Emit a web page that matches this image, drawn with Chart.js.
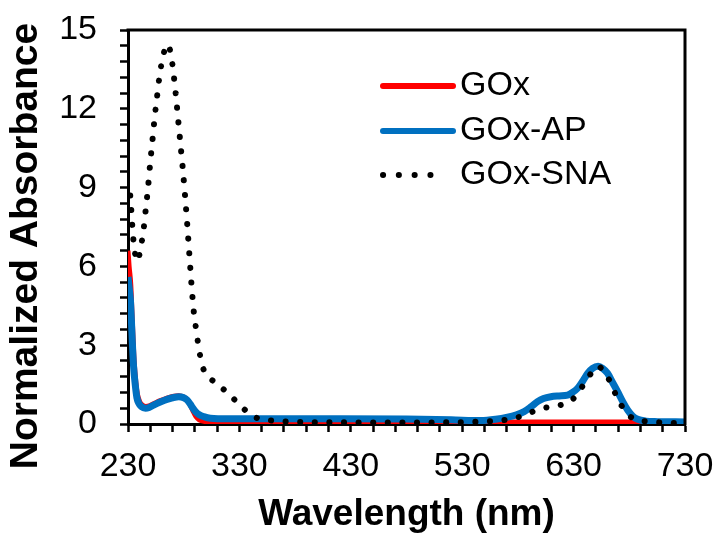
<!DOCTYPE html>
<html>
<head>
<meta charset="utf-8">
<script src="https://cdn.jsdelivr.net/npm/chart.js@4/dist/chart.umd.min.js"></script>
<style>
  html, body { margin: 0; padding: 0; background: #ffffff; }
  #wrap { width: 718px; height: 537px; }
</style>
</head>
<body>
<div id="wrap"><canvas id="c" width="718" height="537"></canvas></div>
<script>
// ---- Data ----
const seriesNames = ['GOx', 'GOx-AP', 'GOx-SNA'];
const xAxisTitle = 'Wavelength (nm)';
const yAxisTitle = 'Normalized Absorbance';

const wavelengthGOx = [230, 231, 232.5, 233.5, 234.5, 235.5, 237, 238.5, 240.5, 243, 246, 249, 253, 259, 265, 270, 275.6, 280, 283.2, 286, 288.5, 291, 294, 298, 305, 400, 500, 600, 700, 730];
const absorbanceGOx = [6.6, 6.0, 5.3, 4.3, 3.3, 2.4, 1.6, 1.12, 0.85, 0.72, 0.67, 0.69, 0.77, 0.89, 0.99, 1.05, 1.08, 1.03, 0.92, 0.72, 0.48, 0.28, 0.16, 0.1, 0.08, 0.08, 0.08, 0.08, 0.08, 0.08];

const wavelengthGOxAP = [230, 231, 232.2, 233, 233.8, 235, 236.7, 238, 239.7, 242, 245.7, 249, 253, 259, 265, 270, 275.6, 280, 283.2, 286, 288, 290.6, 294, 298, 304, 320, 360, 420, 480, 520, 546.7, 560, 570.7, 578, 585.6, 592, 597.6, 603, 609.6, 617, 624.6, 629, 633.6, 638, 642.6, 647, 652, 656, 660.5, 665, 669.5, 674, 678.5, 683, 687.5, 695, 705.5, 730];
const absorbanceGOxAP = [5.6, 5.2, 4.7, 4.0, 3.2, 2.2, 1.42, 1.0, 0.79, 0.66, 0.6, 0.63, 0.72, 0.84, 0.94, 1.0, 1.04, 1.0, 0.91, 0.75, 0.62, 0.47, 0.35, 0.28, 0.22, 0.2, 0.2, 0.2, 0.19, 0.16, 0.13, 0.18, 0.26, 0.34, 0.47, 0.66, 0.85, 0.97, 1.04, 1.07, 1.1, 1.2, 1.36, 1.62, 1.93, 2.12, 2.2, 2.12, 1.93, 1.58, 1.23, 0.86, 0.53, 0.3, 0.18, 0.11, 0.09, 0.08];

const wavelengthSNA = [232, 233, 234, 235, 236.5, 238, 240, 242, 244, 246, 248, 250, 252, 254, 256, 258, 260, 262, 264, 265.5, 267, 269, 271, 273, 275, 277, 279, 281, 283, 285, 287, 289, 291, 293, 295, 297, 300, 303, 311.3, 320.6, 329.5, 339.4, 349, 360, 372, 400, 450, 500, 540, 560, 572.8, 584.7, 597, 609, 621.6, 628, 632.1, 636, 639.5, 643.5, 647.6, 652, 657, 660.5, 664.4, 669.5, 673, 677, 681, 686, 692, 698.8, 710.9, 723.4, 730];
const absorbanceSNA = [8.7, 8.1, 7.45, 6.95, 6.45, 6.2, 6.4, 6.85, 7.4, 8.2, 9.0, 9.97, 10.82, 11.7, 12.42, 13.15, 13.7, 14.1, 14.35, 14.45, 14.35, 13.95, 13.3, 12.5, 11.6, 10.7, 9.8, 8.8, 7.7, 6.5, 5.3, 4.3, 3.65, 3.05, 2.55, 2.18, 1.9, 1.76, 1.48, 1.14, 0.76, 0.38, 0.18, 0.13, 0.09, 0.07, 0.06, 0.06, 0.08, 0.12, 0.18, 0.32, 0.53, 0.66, 0.76, 0.9, 1.07, 1.3, 1.55, 1.8, 2.03, 2.2, 2.0, 1.78, 1.48, 0.94, 0.7, 0.47, 0.28, 0.15, 0.11, 0.09, 0.05, 0.03, 0.02];

const xTickLabels = [230, 330, 430, 530, 630, 730];
const yTickLabels = [0, 3, 6, 9, 12, 15];

// ---- Build chart ----
const toPoints = (xs, ys) => xs.map((x, i) => ({ x: x, y: ys[i] }));
const isLabelled = (v, list) => list.some(t => Math.abs(t - v) < 1e-6);

Chart.defaults.font.family = "'Liberation Sans', Arial, sans-serif";
Chart.defaults.color = '#000000';

const framePlugin = {
  id: 'frame',
  afterDatasetsDraw(chart) {
    const { ctx, chartArea: a } = chart;
    ctx.save();
    ctx.strokeStyle = '#000000';
    ctx.lineWidth = 3;
    ctx.beginPath();
    ctx.moveTo(a.left - 1.5, a.top);
    ctx.lineTo(a.right, a.top);
    ctx.lineTo(a.right, a.bottom + 1.5);
    ctx.stroke();
    ctx.restore();
  }
};

const yTitlePlugin = {
  id: 'yTitle',
  afterDraw(chart, args, opts) {
    const ctx = chart.ctx;
    ctx.save();
    ctx.translate(opts.x, opts.y);
    ctx.rotate(-Math.PI / 2);
    ctx.font = opts.font;
    ctx.fillStyle = '#000000';
    ctx.textAlign = 'center';
    ctx.textBaseline = 'middle';
    ctx.fillText(opts.text, 0, 0);
    ctx.restore();
  }
};

const legendPlugin = {
  id: 'insideLegend',
  afterDraw(chart, args, opts) {
    const ctx = chart.ctx;
    ctx.save();
    ctx.font = opts.font;
    ctx.textBaseline = 'middle';
    ctx.textAlign = 'left';
    chart.data.datasets.forEach((ds, i) => {
      const y = opts.rows[i];
      ctx.save();
      ctx.strokeStyle = ds.borderColor;
      ctx.lineWidth = opts.lineWidth;
      ctx.lineCap = 'round';
      const dashed = ds.borderDash && ds.borderDash.length;
      ctx.setLineDash(dashed ? [0.1, opts.dotGap] : []);
      ctx.beginPath();
      ctx.moveTo(opts.x0, y);
      ctx.lineTo(dashed ? opts.x0 + opts.dotGap * 4 : opts.x1, y);
      ctx.stroke();
      ctx.restore();
      ctx.fillStyle = '#000000';
      ctx.fillText(ds.label, opts.textX, y);
    });
    ctx.restore();
  }
};

new Chart(document.getElementById('c'), {
  type: 'line',
  data: {
    datasets: [
      {
        label: seriesNames[0],
        data: toPoints(wavelengthGOx, absorbanceGOx),
        borderColor: '#FF0000',
        borderWidth: 5,
        pointRadius: 0,
        cubicInterpolationMode: 'monotone',
        order: 3
      },
      {
        label: seriesNames[1],
        data: toPoints(wavelengthGOxAP, absorbanceGOxAP),
        borderColor: '#0070C0',
        borderWidth: 7,
        pointRadius: 0,
        cubicInterpolationMode: 'monotone',
        order: 2
      },
      {
        label: seriesNames[2],
        data: toPoints(wavelengthSNA, absorbanceSNA),
        borderColor: '#000000',
        borderWidth: 6,
        borderDash: [0.1, 14.5],
        borderCapStyle: 'round',
        pointRadius: 0,
        cubicInterpolationMode: 'monotone',
        order: 1
      }
    ]
  },
  options: {
    responsive: false,
    animation: false,
    events: [],
    layout: { padding: { top: 30, right: 33, bottom: 0, left: 0 } },
    plugins: {
      legend: { display: false },
      tooltip: { enabled: false },
      insideLegend: {
        font: "34px 'Liberation Sans', Arial, sans-serif",
        rows: [86, 131, 175],
        x0: 383, x1: 453, textX: 460,
        lineWidth: 6, dotGap: 15.7
      },
      yTitle: {
        text: yAxisTitle,
        font: "bold 39px 'Liberation Sans', Arial, sans-serif",
        x: 26, y: 246
      }
    },
    scales: {
      x: {
        type: 'linear',
        min: 230, max: 730,
        afterFit(scale) { scale.height = 113; scale.paddingLeft = 0; scale.paddingRight = 0; },
        ticks: {
          stepSize: 20,
          autoSkip: false,
          maxRotation: 0, minRotation: 0,
          padding: 14,
          font: { size: 34 },
          color: '#000000',
          callback: (v) => isLabelled(v, xTickLabels) ? String(v) : ''
        },
        grid: {
          drawOnChartArea: false,
          drawTicks: true,
          tickLength: 8,
          tickWidth: 2.5,
          tickColor: '#000000'
        },
        border: { display: true, color: '#000000', width: 3 },
        title: {
          display: true,
          text: xAxisTitle,
          font: { size: 37, weight: 'bold', lineHeight: 1.2 },
          color: '#000000',
          padding: { top: 0, bottom: 0 }
        }
      },
      y: {
        type: 'linear',
        min: 0, max: 15,
        afterFit(scale) { scale.width = 128; scale.paddingTop = 0; scale.paddingBottom = 0; },
        ticks: {
          stepSize: 0.6,
          autoSkip: false,
          padding: 23,
          font: { size: 34 },
          color: '#000000',
          callback: (v) => isLabelled(v, yTickLabels) ? String(Math.round(v)) : ''
        },
        grid: {
          drawOnChartArea: false,
          drawTicks: true,
          tickLength: 8,
          tickWidth: 2.5,
          tickColor: '#000000'
        },
        border: { display: true, color: '#000000', width: 3 },
        title: { display: false, text: yAxisTitle }
      }
    }
  },
  plugins: [framePlugin, yTitlePlugin, legendPlugin]
});
</script>
</body>
</html>
